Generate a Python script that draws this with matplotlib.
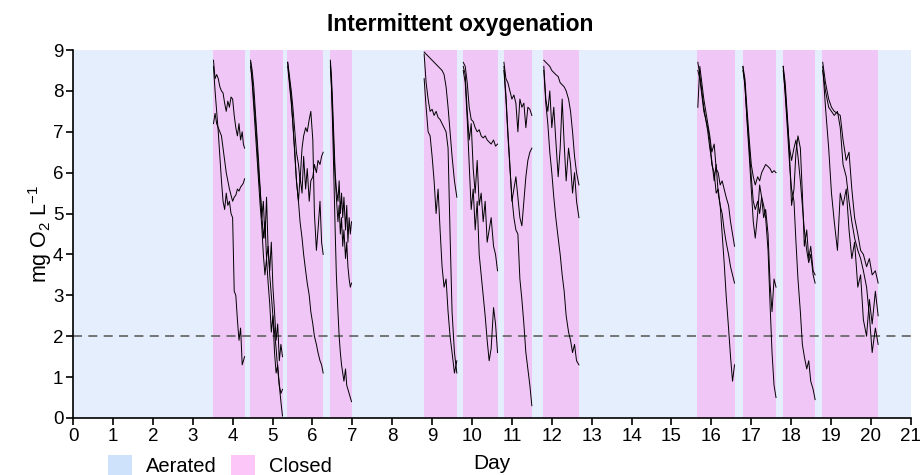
import matplotlib
matplotlib.use("Agg")
import matplotlib.pyplot as plt
from matplotlib.patches import Patch

plt.rcParams['font.family'] = ['Liberation Sans', 'DejaVu Sans']
plt.rcParams['mathtext.default'] = 'regular'

# closed (no aeration) periods, in days
closed_start = [3.51, 4.44, 5.36, 6.44, 8.80, 9.77, 10.80, 11.78, 15.64, 16.79, 17.79, 18.77]
closed_end = [4.31, 5.26, 6.27, 6.99, 9.62, 10.65, 11.50, 12.68, 16.59, 17.62, 18.60, 20.18]

# O2 traces during each closed period (three replicates per period)
t1 = [3.52, 3.56, 3.60, 3.64, 3.68, 3.72, 3.76, 3.80, 3.84, 3.88, 3.92, 3.96, 4.00, 4.04, 4.08, 4.12, 4.16, 4.20, 4.24, 4.27, 4.30]
p1 = [
    [8.75, 8.3, 8.4, 8.3, 8.1, 8.0, 7.95, 7.7, 7.5, 7.75, 7.6, 7.85, 7.8, 7.4, 7.1, 6.9, 7.2, 6.8, 7.0, 6.7, 6.6],
    [7.2, 7.45, 7.2, 7.1, 7.0, 6.9, 6.6, 6.3, 6.0, 5.8, 5.6, 5.45, 5.3, 5.4, 5.45, 5.6, 5.55, 5.65, 5.7, 5.75, 5.85],
    [8.6, 8.0, 7.5, 7.0, 6.4, 5.8, 5.3, 5.1, 5.5, 5.2, 5.3, 5.0, 4.9, 3.1, 3.0, 2.4, 1.9, 2.2, 1.3, 1.4, 1.5],
]
t2 = [4.45, 4.49, 4.53, 4.57, 4.61, 4.65, 4.69, 4.73, 4.77, 4.81, 4.85, 4.89, 4.93, 4.97, 5.01, 5.05, 5.09, 5.13, 5.17, 5.21, 5.25]
p2 = [
    [8.75, 8.5, 8.1, 7.5, 6.9, 6.3, 5.6, 5.0, 4.4, 4.8, 3.9, 4.2, 3.5, 3.0, 2.5, 2.1, 1.7, 1.2, 0.8, 0.4, 0.05],
    [8.6, 8.3, 7.8, 7.3, 6.7, 6.0, 5.6, 4.9, 5.3, 4.4, 5.4, 4.1, 3.6, 4.3, 3.2, 2.6, 1.9, 2.3, 1.4, 1.8, 1.5],
    [8.7, 8.2, 7.6, 7.0, 6.4, 5.8, 5.2, 4.7, 4.0, 3.5, 3.9, 3.3, 2.8, 2.1, 2.5, 1.6, 1.1, 1.3, 0.8, 0.6, 0.7],
]
t3 = [5.38, 5.42, 5.47, 5.51, 5.56, 5.60, 5.65, 5.69, 5.74, 5.78, 5.83, 5.87, 5.92, 5.96, 6.01, 6.05, 6.10, 6.14, 6.19, 6.23, 6.27]
p3 = [
    [8.7, 8.4, 8.0, 7.6, 7.0, 6.5, 6.2, 5.8, 6.6, 6.9, 7.1, 7.0, 7.3, 7.5, 6.8, 5.0, 4.1, 4.6, 5.3, 4.3, 4.0],
    [8.6, 8.2, 7.7, 7.2, 6.4, 5.8, 5.3, 5.9, 5.5, 6.4, 5.6, 6.1, 5.3, 5.8, 5.9, 6.2, 6.0, 6.3, 6.2, 6.4, 6.5],
    [8.7, 8.3, 7.8, 7.2, 6.5, 5.8, 5.3, 4.8, 4.4, 4.0, 3.6, 3.3, 3.0, 2.6, 2.3, 2.0, 1.8, 1.6, 1.4, 1.3, 1.1],
]
t4 = [6.45, 6.48, 6.51, 6.54, 6.57, 6.60, 6.64, 6.67, 6.70, 6.73, 6.76, 6.79, 6.83, 6.86, 6.89, 6.92, 6.95, 6.98]
p4 = [
    [8.75, 8.3, 7.6, 6.8, 6.0, 5.6, 5.3, 5.8, 5.0, 5.5, 4.9, 5.4, 4.6, 5.2, 4.3, 4.9, 4.5, 4.8],
    [8.6, 8.1, 7.3, 6.5, 5.9, 5.4, 4.8, 5.2, 4.5, 4.9, 4.2, 4.6, 3.9, 4.3, 3.7, 3.4, 3.2, 3.3],
    [8.7, 8.0, 7.0, 5.8, 4.6, 3.5, 2.6, 2.0, 1.6, 1.3, 1.1, 0.9, 1.2, 0.8, 0.7, 0.6, 0.5, 0.4],
]
t5 = [8.80, 8.85, 8.90, 8.95, 9.00, 9.05, 9.10, 9.15, 9.20, 9.25, 9.30, 9.35, 9.40, 9.45, 9.50, 9.56, 9.62]
p5 = [
    [8.95, 8.9, 8.85, 8.8, 8.75, 8.7, 8.65, 8.6, 8.55, 8.5, 8.4, 8.1, 7.6, 7.0, 6.4, 5.8, 5.4],
    [8.9, 8.2, 7.8, 7.5, 7.55, 7.4, 7.5, 7.35, 7.3, 7.2, 7.1, 7.0, 6.6, 4.5, 2.6, 1.6, 1.1],
    [8.3, 7.6, 7.0, 6.9, 6.4, 5.8, 5.0, 5.6, 4.6, 3.7, 3.2, 3.4, 2.6, 2.0, 1.6, 1.1, 1.4],
]
t6 = [9.78, 9.83, 9.88, 9.93, 9.98, 10.03, 10.08, 10.13, 10.18, 10.23, 10.28, 10.33, 10.38, 10.43, 10.48, 10.54, 10.59, 10.64]
p6 = [
    [8.7, 8.6, 8.2, 7.6, 7.3, 7.25, 7.1, 7.0, 7.05, 6.9, 6.85, 6.9, 6.8, 6.75, 6.7, 6.8, 6.65, 6.7],
    [8.6, 8.4, 7.5, 6.8, 7.2, 6.1, 5.5, 6.3, 5.2, 5.5, 4.8, 5.3, 4.3, 4.6, 4.9, 4.2, 4.0, 3.6],
    [8.5, 8.2, 7.3, 6.2, 5.1, 5.6, 4.6, 5.3, 4.0, 3.5, 3.0, 2.5, 1.9, 1.4, 1.7, 2.7, 2.3, 1.6],
]
t7 = [10.80, 10.85, 10.90, 10.95, 11.00, 11.05, 11.10, 11.15, 11.20, 11.25, 11.30, 11.35, 11.40, 11.45, 11.50]
p7 = [
    [8.7, 8.3, 8.2, 8.0, 7.8, 7.9, 7.7, 7.0, 7.8, 7.6, 7.7, 7.1, 7.6, 7.55, 7.4],
    [8.6, 7.9, 7.0, 6.2, 5.3, 5.6, 5.9, 5.4, 4.9, 4.7, 5.3, 5.9, 6.3, 6.5, 6.6],
    [8.5, 7.8, 6.9, 6.1, 5.4, 4.9, 4.6, 4.5, 3.4, 2.9, 2.3, 1.6, 1.2, 0.8, 0.3],
]
t8 = [11.80, 11.85, 11.90, 11.95, 12.00, 12.05, 12.10, 12.16, 12.21, 12.26, 12.31, 12.36, 12.42, 12.47, 12.52, 12.57, 12.62, 12.68]
p8 = [
    [8.75, 8.7, 8.65, 8.6, 8.5, 8.45, 8.4, 8.35, 8.2, 8.15, 8.1, 8.0, 7.8, 7.5, 7.0, 6.4, 6.0, 5.7],
    [8.6, 7.8, 7.5, 8.0, 7.1, 7.6, 6.8, 5.9, 6.6, 7.8, 6.7, 5.8, 6.6, 6.2, 5.5, 6.0, 5.3, 4.9],
    [8.5, 7.7, 7.2, 6.5, 6.0, 5.4, 4.9, 4.4, 4.0, 3.5, 3.1, 2.5, 2.1, 1.9, 1.6, 1.8, 1.4, 1.3],
]
t9 = [15.66, 15.71, 15.76, 15.81, 15.86, 15.91, 15.96, 16.01, 16.07, 16.12, 16.17, 16.22, 16.27, 16.32, 16.37, 16.43, 16.48, 16.53, 16.58]
p9 = [
    [7.6, 8.6, 8.2, 7.8, 7.5, 7.2, 6.9, 6.5, 6.7, 6.1, 6.0, 5.7, 5.8, 5.6, 5.4, 5.2, 4.8, 4.5, 4.2],
    [8.7, 8.4, 8.0, 7.6, 7.3, 7.0, 6.6, 6.3, 5.8, 6.2, 5.5, 5.2, 5.0, 4.6, 4.3, 4.0, 3.7, 3.5, 3.3],
    [8.5, 8.3, 7.9, 7.5, 7.3, 7.1, 6.8, 6.2, 6.0, 5.5, 5.6, 5.2, 4.5, 3.8, 3.0, 2.2, 1.5, 0.9, 1.3],
]
t10 = [16.79, 16.84, 16.89, 16.95, 17.00, 17.05, 17.10, 17.16, 17.21, 17.26, 17.31, 17.36, 17.42, 17.47, 17.52, 17.57, 17.62]
p10 = [
    [8.6, 8.3, 7.6, 6.8, 6.2, 5.9, 5.7, 5.9, 5.8, 6.0, 6.1, 6.2, 6.15, 6.1, 6.0, 6.05, 6.0],
    [8.5, 8.2, 7.3, 6.4, 5.6, 4.8, 4.4, 5.0, 5.7, 5.4, 4.9, 5.1, 4.5, 3.3, 2.6, 3.4, 3.2],
    [8.6, 8.1, 7.4, 6.6, 5.9, 5.3, 5.1, 5.3, 5.0, 5.4, 5.2, 4.9, 4.1, 2.8, 1.6, 0.8, 0.5],
]
t11 = [17.80, 17.85, 17.91, 17.96, 18.01, 18.07, 18.12, 18.17, 18.23, 18.28, 18.33, 18.39, 18.44, 18.49, 18.55, 18.60]
p11 = [
    [8.6, 8.2, 7.3, 6.4, 5.2, 5.6, 6.5, 6.9, 6.6, 5.5, 4.2, 4.6, 3.9, 4.2, 3.6, 3.5],
    [8.5, 8.0, 7.2, 6.6, 6.3, 6.6, 6.8, 6.4, 5.8, 5.2, 4.6, 4.1, 3.8, 4.0, 3.5, 3.3],
    [8.6, 7.9, 7.0, 6.2, 5.6, 5.3, 4.3, 3.4, 2.6, 1.8, 1.5, 1.2, 1.4, 0.9, 0.7, 0.45],
]
t12 = [18.79, 18.86, 18.94, 19.01, 19.08, 19.16, 19.23, 19.30, 19.38, 19.45, 19.52, 19.59, 19.67, 19.74, 19.81, 19.89, 19.96, 20.03, 20.11, 20.18]
p12 = [
    [8.7, 8.2, 7.8, 7.6, 7.5, 7.45, 7.4, 6.8, 6.3, 6.5, 5.6, 4.9, 4.5, 4.1, 4.0, 3.7, 3.9, 3.5, 3.6, 3.3],
    [8.6, 7.6, 6.6, 5.5, 4.8, 4.1, 5.5, 5.2, 5.6, 4.6, 3.9, 4.3, 3.2, 3.5, 2.4, 2.0, 2.9, 2.3, 3.1, 2.5],
    [8.5, 8.0, 7.6, 7.5, 7.4, 7.5, 7.1, 6.2, 5.9, 5.3, 4.8, 4.4, 4.1, 3.9, 3.6, 3.2, 2.5, 1.6, 2.2, 1.8],
]

times = [t1, t2, t3, t4, t5, t6, t7, t8, t9, t10, t11, t12]
periods = [p1, p2, p3, p4, p5, p6, p7, p8, p9, p10, p11, p12]

threshold = 2
aerated_col = '#e5eefc'
closed_col = '#efc6f6'

fig = plt.figure(figsize=(9.21, 4.75), dpi=100)
ax = fig.add_axes([0.0793, 0.12, 0.9097, 0.7747])

ax.set_facecolor(aerated_col)
for s, e in zip(closed_start, closed_end):
    ax.axvspan(s, e, color=closed_col, lw=0, zorder=0)

for t, traces in zip(times, periods):
    for y in traces:
        ax.plot(t, y, color='black', lw=0.7, zorder=3)

ax.axhline(threshold, color='#6b6b6b', ls=(0, (5, 3.5)), lw=1.3, zorder=2)

ax.set_xlim(0, 21)
ax.set_ylim(0, 9)
ax.set_xticks(range(0, 22))
ax.set_yticks(range(0, 10))
ax.tick_params(labelsize=13.5, length=5, width=1.2, direction='out', pad=2)
for sp in ['top', 'right']:
    ax.spines[sp].set_visible(False)
for sp in ['left', 'bottom']:
    ax.spines[sp].set_linewidth(1.2)

fig.text(0.5, 0.948, 'Intermittent oxygenation', fontsize=16.5, fontweight='bold',
         ha='center', va='center')
ax.set_ylabel('mg O$_2$ L$^{-1}$', fontsize=15.5, labelpad=-1)
ax.set_xlabel('Day', fontsize=15, labelpad=7)

handles = [Patch(facecolor='#cfe2fb', edgecolor='none', label='Aerated'),
           Patch(facecolor='#fdc6f9', edgecolor='none', label='Closed')]
fig.legend(handles=handles, loc='lower left', bbox_to_anchor=(0.098, -0.04), ncol=2,
           frameon=False, fontsize=14.5, handlelength=1.15, handleheight=1.1,
           handletextpad=0.7, columnspacing=0.75)

fig.savefig('out.png', dpi=100)
